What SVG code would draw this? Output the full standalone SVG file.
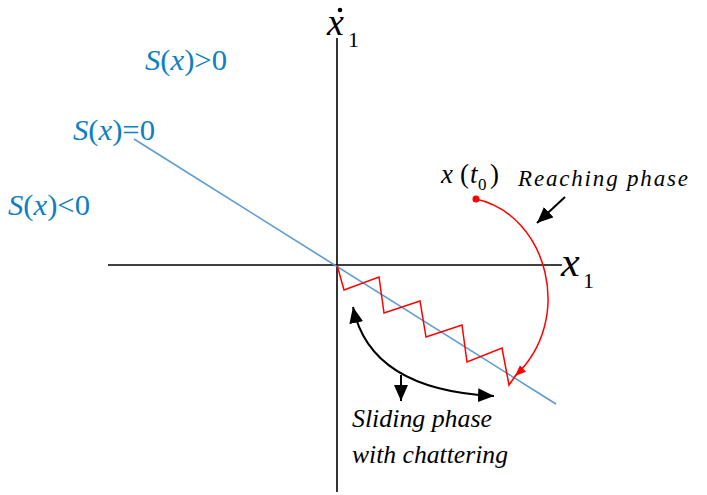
<svg xmlns="http://www.w3.org/2000/svg" width="707" height="495" viewBox="0 0 707 495">
<style>
.ax{stroke:#000;stroke-width:1.6;fill:none}
.blk{stroke:#000;stroke-width:2;fill:none}
.red{stroke:#f00;stroke-width:1.5;fill:none}
.sl{stroke:#5b9bd5;stroke-width:1.6;fill:none}
.t{fill:#000}
.s{fill:#0d7fc2;font-size:29px}
.i{font-style:italic}
</style>
<defs>
<marker id="ah" markerUnits="userSpaceOnUse" markerWidth="18" markerHeight="16" refX="16" refY="7" orient="auto-start-reverse">
<path d="M0,0 L16,7 L0,14 Z" fill="#000"/>
</marker>
<marker id="rh" markerUnits="userSpaceOnUse" markerWidth="12" markerHeight="10" refX="11" refY="4.5" orient="auto">
<path d="M0,0 L11,4.5 L0,9 Z" fill="#f00"/>
</marker>
</defs>
<g id="axes">
<line class="ax" x1="108" y1="265" x2="562" y2="265"/>
<line class="ax" x1="337" y1="38" x2="337" y2="492"/>
</g>
<g id="labels" font-family="Liberation Serif, Times New Roman, serif">
<text class="t i" x="561" y="276" font-size="42">x</text>
<text class="t" x="583" y="288" font-size="22">1</text>
<text class="t i" x="327" y="35" font-size="38">x</text>
<circle cx="340" cy="10" r="2.3" fill="#000"/>
<text class="t" x="348" y="47" font-size="22">1</text>
<text class="s" x="145" y="70" textLength="82" lengthAdjust="spacingAndGlyphs"><tspan class="i">S</tspan>(<tspan class="i">x</tspan>)&gt;0</text>
<text class="s" x="73" y="140" textLength="82" lengthAdjust="spacingAndGlyphs"><tspan class="i">S</tspan>(<tspan class="i">x</tspan>)=0</text>
<text class="s" x="8" y="215" textLength="82" lengthAdjust="spacingAndGlyphs"><tspan class="i">S</tspan>(<tspan class="i">x</tspan>)&lt;0</text>
</g>
<g id="sliding-surface">
<line class="sl" x1="134" y1="139" x2="556" y2="404"/>
</g>
<g id="x0" font-family="Liberation Serif, Times New Roman, serif">
<circle cx="476" cy="199" r="3.5" fill="#f00"/>
<text class="t" font-size="27" y="183"><tspan class="i" x="441">x</tspan><tspan x="460">(</tspan><tspan class="i" x="470">t</tspan><tspan x="478" y="190" font-size="17">0</tspan><tspan x="490" y="183">)</tspan></text>
</g>
<g id="reaching-label" font-family="Liberation Serif, Times New Roman, serif">
<text class="t i" x="518" y="186" font-size="23" textLength="170" lengthAdjust="spacing">Reaching  phase</text>
</g>
<g id="sliding-label" font-family="Liberation Serif, Times New Roman, serif">
<text class="t i" x="352" y="427" font-size="25" textLength="140" lengthAdjust="spacingAndGlyphs">Sliding phase</text>
<text class="t i" x="352" y="463" font-size="25" textLength="156" lengthAdjust="spacingAndGlyphs">with chattering</text>
</g>
<g id="connectors">
<polyline class="red" points="337,265 344,290 379,277 384,313 420,301 426,337 462,325 467,362 502,348 509,385 516,375"/>
<path class="red" d="M476,199 C548,215 575,320 515,376" marker-end="url(#rh)"/>
<line class="blk" x1="565" y1="197" x2="537" y2="223" marker-end="url(#ah)"/>
<path class="blk" d="M353,307 Q370,390 494,396" marker-start="url(#ah)" marker-end="url(#ah)"/>
<line class="blk" x1="401" y1="375" x2="401" y2="401" marker-end="url(#ah)"/>
</g>
</svg>
